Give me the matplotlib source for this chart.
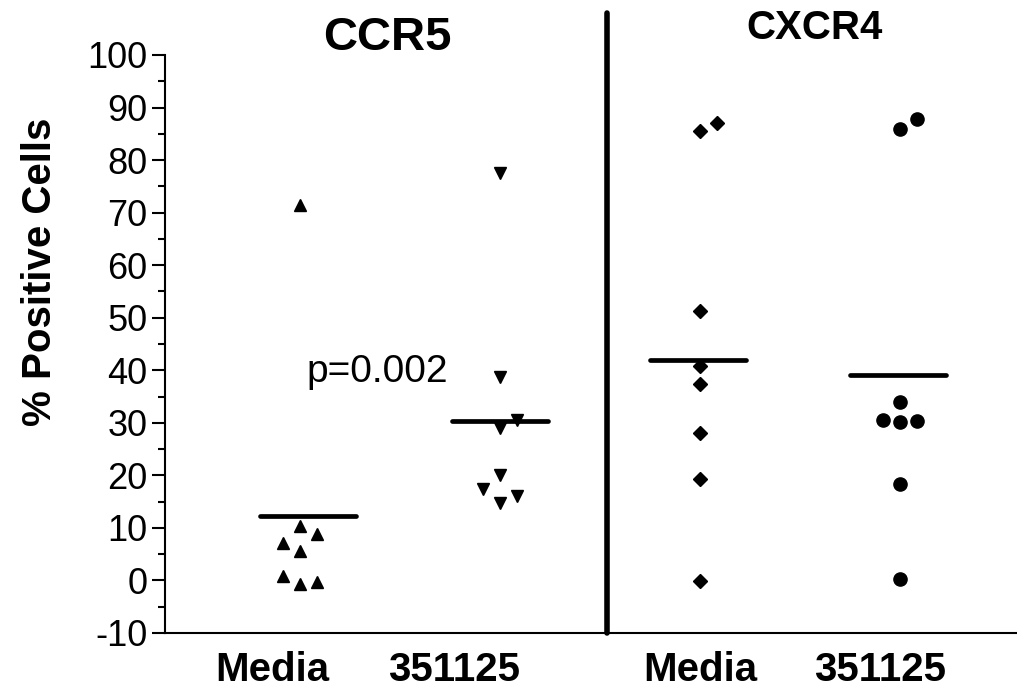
import matplotlib
matplotlib.use("Agg")
import matplotlib.pyplot as plt

# data
groups = ["Media", "351125", "Media", "351125"]
panel_titles = ["CCR5", "CXCR4"]
ccr5_media = [71.5, 10.4, 8.8, 7.1, 5.6, 0.9, -0.7, -0.3]
ccr5_351125 = [77.5, 38.8, 30.5, 29.0, 20.1, 17.4, 16.1, 14.8]
cxcr4_media = [87.0, 85.5, 51.3, 40.8, 37.3, 28.0, 19.4, -0.1]
cxcr4_351125 = [87.8, 85.9, 33.9, 30.5, 30.4, 30.1, 18.3, 0.3]
group_means = [12.3, 30.4, 41.9, 39.1]
p_text = "p=0.002"

# horizontal spread of the dots (position only)
spread = 0.087
jitter = [
    [0, 0, 1, -1, 0, -1, 0, 1],
    [0, 0, 1, 0, 0, -1, 1, 0],
    [1, 0, 0, 0, 0, 0, 0, 0],
    [1, 0, 0, -1, 1, 0, 0, 0],
]
markers = ["^", "v", "D", "o"]
msizes = [9, 9, 7, 9.5]
line_shift = [0.04, 0.0, -0.01, -0.01]

plt.rcParams["font.family"] = ["Liberation Sans", "DejaVu Sans"]
plt.rcParams["axes.unicode_minus"] = False

fig = plt.figure(figsize=(10.17, 6.92), dpi=100)
ax = fig.add_axes([165 / 1017, 59 / 692, 852 / 1017, 578 / 692])

all_vals = [ccr5_media, ccr5_351125, cxcr4_media, cxcr4_351125]
for i, vals in enumerate(all_vals):
    xs = [i + 1 + j * spread for j in jitter[i]]
    ax.plot(xs, vals, linestyle="none", marker=markers[i], ms=msizes[i],
            color="black", clip_on=False)
    xc = i + 1 + line_shift[i]
    ax.plot([xc - 0.24, xc + 0.24], [group_means[i], group_means[i]],
            color="black", lw=3.4, solid_capstyle="round")

# divider between panels
ax.plot([2.535, 2.535], [-10, 108], color="black", lw=4,
        solid_capstyle="round", clip_on=False)

ax.set_xlim(0.325, 4.585)
ax.set_ylim(-10, 100)
ax.set_yticks(range(-10, 101, 10))
ax.set_yticks(range(-5, 100, 10), minor=True)
ax.tick_params(axis="y", which="major", length=9.5, width=1.5, labelsize=26, pad=3)
ax.tick_params(axis="y", which="minor", length=5, width=1.5)
ax.set_xticks([0.86, 1.77, 3.0, 3.9])
ax.set_xticklabels(groups, fontweight="bold", fontsize=29)
ax.tick_params(axis="x", length=0, pad=13)
for s in ["top", "right"]:
    ax.spines[s].set_visible(False)
for s in ["left", "bottom"]:
    ax.spines[s].set_linewidth(1.5)

fig.text(40 / 1017, 1 - 272 / 692, "% Positive Cells", rotation=90,
         ha="center", va="center", fontsize=29, fontweight="bold")
fig.text(387 / 1017, 1 - 38 / 692, panel_titles[0], ha="center", va="center",
         fontsize=34, fontweight="bold")
fig.text(815 / 1017, 1 - 28 / 692, panel_titles[1], ha="center", va="center",
         fontsize=29, fontweight="bold")
ax.text(1.385, 39.6, p_text, ha="center", va="center", fontsize=28)

fig.savefig("out.png", dpi=100)
